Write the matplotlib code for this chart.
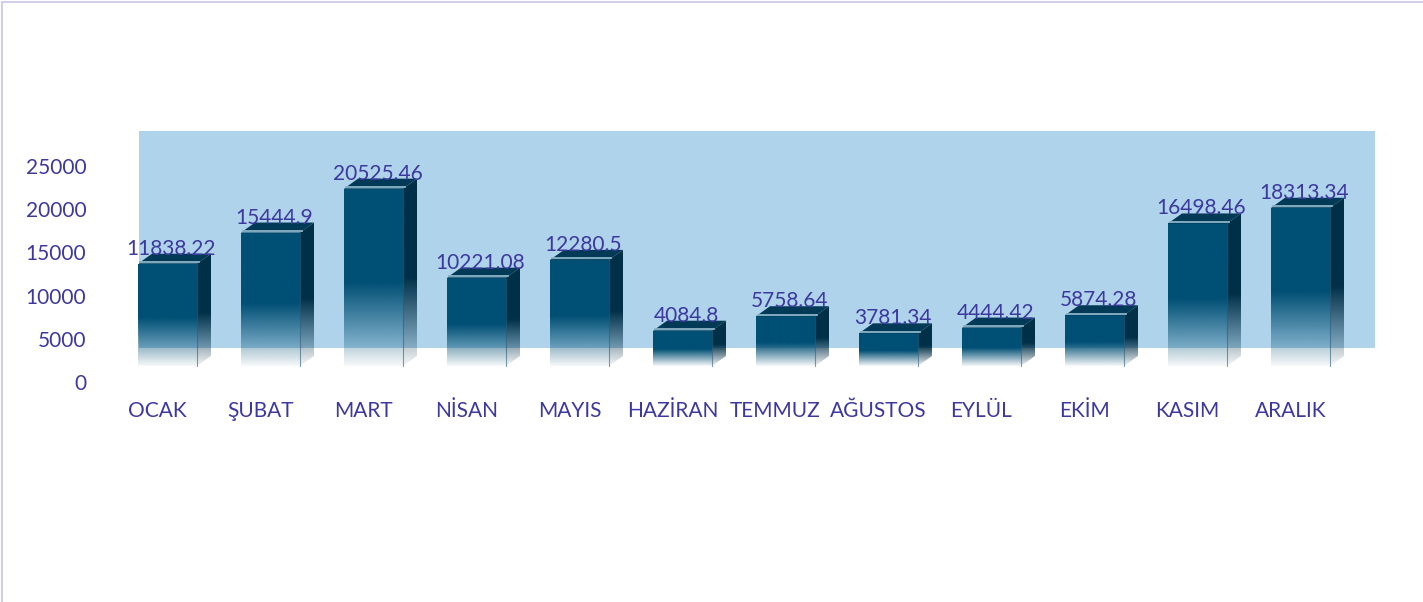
import numpy as np
import matplotlib.pyplot as plt
from matplotlib.patches import Polygon, Rectangle

# ==============================
# DATA
# ==============================
months = ["OCAK", "ŞUBAT", "MART", "NİSAN", "MAYIS", "HAZİRAN",
          "TEMMUZ", "AĞUSTOS", "EYLÜL", "EKİM", "KASIM", "ARALIK"]
values = [11838.22, 15444.9, 20525.46, 10221.08, 12280.5, 4084.8,
          5758.64, 3781.34, 4444.42, 5874.28, 16498.46, 18313.34]
value_labels = ["11838.22", "15444.9", "20525.46", "10221.08", "12280.5", "4084.8",
                "5758.64", "3781.34", "4444.42", "5874.28", "16498.46", "18313.34"]
y_ticks = [0, 5000, 10000, 15000, 20000, 25000]

# ==============================
# STYLE
# ==============================
TEXT_COLOR = "#3D389E"
WALL_COLOR = "#AED3EA"
FRONT = np.array([0x00, 0x4F, 0x74]) / 255
SIDE = np.array([0x00, 0x30, 0x48]) / 255
TOP = "#003A56"
HIGHLIGHT = "#8DB4C9"

plt.rcParams["font.family"] = ["Lato", "DejaVu Sans"]

W, H = 1423, 602
fig = plt.figure(figsize=(W / 100, H / 100), dpi=100)

# outer chart border (light lavender), only top and left visible
fig.patches.append(Rectangle((2 / W, -0.05), 1.05, 1.05 - 2 / H, transform=fig.transFigure,
                             fill=False, edgecolor="#D2CEEA", linewidth=1.5))

# axes placed in pixel terms
left_px, right_px, top_px, bot_px = 139, 1375, 131, 400
ax = fig.add_axes([left_px / W, 1 - bot_px / H,
                   (right_px - left_px) / W, (bot_px - top_px) / H])

px_per_unit = 8.64 / 1000         # vertical scale
pitch = 103.0                     # px between categories
base_px = 366                     # pixel row of value 0 on bar fronts
ymin = -(bot_px - base_px) / px_per_unit
ymax = (base_px - top_px) / px_per_unit
xmin = -(167.5 - left_px) / pitch
xmax = (right_px - 167.5) / pitch
ax.set_xlim(xmin, xmax)
ax.set_ylim(ymin, ymax)

bar_w = 59 / pitch
dx = 14 / pitch
dy = 10 / px_per_unit
wall_bottom = (base_px - 348) / px_per_unit
label_shift = 16 / px_per_unit   # axis labels sit below bar base

# back wall
ax.axhspan(wall_bottom, ymax, color=WALL_COLOR, zorder=0, linewidth=0)


def gradient(rgb, n=200):
    # alpha ramps in bottom 47% of bar
    f = np.linspace(0, 1, n)
    alpha = np.clip(0.04 + 0.96 * f / 0.47, 0, 1)
    img = np.zeros((n, 1, 4))
    img[:, 0, :3] = rgb
    img[:, 0, 3] = alpha
    return img


for i, v in enumerate(values):
    x0 = i - bar_w / 2
    x1 = i + bar_w / 2

    # side face
    side = Polygon([(x1, 0), (x1 + dx, dy), (x1 + dx, v + dy), (x1, v)],
                   closed=True, facecolor="none", edgecolor="none")
    ax.add_patch(side)
    im = ax.imshow(gradient(SIDE), extent=[x1, x1 + dx, 0, v + dy], origin="lower",
                   aspect="auto", interpolation="bilinear", zorder=2)
    im.set_clip_path(side)

    # front face
    front = Rectangle((x0, 0), bar_w, v, facecolor="none", edgecolor="none")
    ax.add_patch(front)
    im = ax.imshow(gradient(FRONT), extent=[x0, x1, 0, v], origin="lower",
                   aspect="auto", interpolation="bilinear", zorder=3)
    im.set_clip_path(front)

    # thin edge between front and side
    ax.plot([x1, x1], [0, v], color="#2A5F7E", linewidth=0.8, alpha=0.6, zorder=4)

    # top face
    ax.add_patch(Polygon([(x0, v), (x1, v), (x1 + dx, v + dy), (x0 + dx, v + dy)],
                         closed=True, facecolor=TOP, edgecolor="none", zorder=4))
    ax.plot([x0 + dx * 0.15, x1 + dx * 0.15], [v + dy * 0.15, v + dy * 0.15],
            color=HIGHLIGHT, linewidth=1.3, zorder=5)

    # value label
    ax.text(i + 4 / pitch, v + 1040, value_labels[i], ha="center", va="baseline",
            fontsize=15, color=TEXT_COLOR, zorder=6)

# axes ticks / labels
ax.set_yticks(np.array(y_ticks) - label_shift)
ax.set_yticklabels([str(t) for t in y_ticks])
ax.set_xticks(np.arange(len(months)) - 10 / pitch)
ax.set_xticklabels(months)
ax.tick_params(axis="y", length=0, pad=38, labelsize=15, labelcolor=TEXT_COLOR)
ax.tick_params(axis="x", length=0, pad=1, labelsize=15, labelcolor=TEXT_COLOR)
for s in ax.spines.values():
    s.set_visible(False)
ax.set_facecolor("none")

fig.savefig("out.png", dpi=100, facecolor="white")
